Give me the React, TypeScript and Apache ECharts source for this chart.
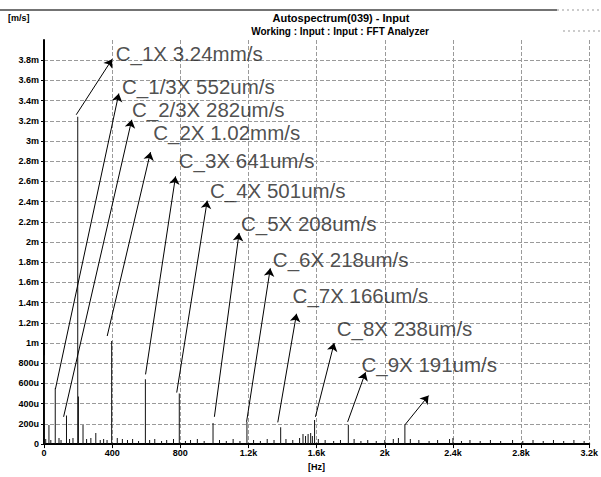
import React, { useEffect, useRef } from "react";
import * as echarts from "echarts";

// Frequency (Hz) of labelled orders and their amplitudes (mm/s)
const orderNames = ["C_1/3X", "C_2/3X", "C_1X", "C_2X", "C_3X", "C_4X", "C_5X", "C_6X", "C_7X", "C_8X", "C_9X"];
const orderFreqs = [66, 132, 198, 397, 595, 794, 992, 1191, 1389, 1588, 1786];
const orderValues = [0.552, 0.282, 3.24, 1.02, 0.641, 0.501, 0.208, 0.218, 0.166, 0.238, 0.191];
const orderTexts = ["552um/s", "282um/s", "3.24mm/s", "1.02mm/s", "641um/s", "501um/s", "208um/s", "218um/s", "166um/s", "238um/s", "191um/s"];

// Arrow starts / tips in data coordinates (Hz, mm/s)
const arrowStartF = [67, 115, 189, 371, 596, 779, 1000, 1189, 1372, 1593, 1782];
const arrowStartV = [0.545, 0.27, 3.26, 1.07, 0.69, 0.51, 0.27, 0.22, 0.215, 0.27, 0.22];
const arrowTipF = [439, 515, 400, 625, 772, 958, 1145, 1328, 1482, 1703, 1887];
const arrowTipV = [3.47, 3.21, 3.81, 2.89, 2.65, 2.41, 2.09, 1.74, 1.29, 1.0, 0.71];
// Label anchors (left edge, middle) in data coordinates
const labelF = [458, 516, 421, 641, 791, 974, 1156, 1343, 1459, 1718, 1863];
const labelV = [3.54, 3.31, 3.87, 3.08, 2.81, 2.51, 2.18, 1.83, 1.47, 1.14, 0.79];

// Extra unlabeled peak with its arrow
const extraPeak = [2118, 0.19];
const extraArrow = [2118, 0.19, 2257, 0.48];

// Other spectral lines (Hz, mm/s)
const otherLines: number[][] = [
  [2, 0.88], [10, 0.05], [29, 0.19], [40, 0.04], [88, 0.06], [100, 0.04], [150, 0.05], [170, 0.06],
  [202, 0.47], [229, 0.19], [250, 0.05], [275, 0.06], [304, 0.11], [330, 0.04], [350, 0.05], [370, 0.04],
  [430, 0.06], [460, 0.05], [490, 0.04], [520, 0.05], [555, 0.03], [620, 0.04], [650, 0.05], [690, 0.03],
  [720, 0.04], [760, 0.05], [830, 0.03], [860, 0.04], [900, 0.05], [940, 0.03], [1030, 0.04], [1070, 0.03],
  [1110, 0.05], [1150, 0.03], [1230, 0.04], [1270, 0.03], [1310, 0.05], [1350, 0.04], [1420, 0.05],
  [1460, 0.04], [1500, 0.06], [1520, 0.1], [1535, 0.08], [1550, 0.1], [1565, 0.11], [1575, 0.08],
  [1610, 0.05], [1650, 0.04], [1700, 0.03], [1740, 0.04], [1820, 0.05], [1860, 0.03], [1900, 0.04],
  [1950, 0.03], [2000, 0.04], [2050, 0.05], [2080, 0.06], [2150, 0.05], [2200, 0.04], [2260, 0.03],
  [2310, 0.04], [2380, 0.05], [2400, 0.06], [2450, 0.03], [2500, 0.04], [2560, 0.03], [2620, 0.04],
  [2680, 0.03], [2750, 0.04], [2810, 0.03], [2870, 0.04], [2930, 0.03], [2990, 0.04], [3050, 0.03],
  [3110, 0.04], [3170, 0.03],
];

const titleText = "Autospectrum(039) - Input";
const subtitleText = "Working : Input : Input : FFT Analyzer";
const yUnit = "[m/s]";
const xUnit = "[Hz]";

export default function App() {
  const ref = useRef<HTMLDivElement>(null);
  useEffect(() => {
    if (!ref.current) return;
    const chart = echarts.init(ref.current, null, { renderer: "svg" });
    const barData = [
      ...orderFreqs.map((f, i) => [f, orderValues[i]]),
      extraPeak,
      ...otherLines,
    ];
    const arrows: any[] = orderFreqs.map((_, i) => [
      { coord: [arrowStartF[i], arrowStartV[i]] },
      { coord: [arrowTipF[i], arrowTipV[i]] },
    ]);
    arrows.push([
      { coord: [extraArrow[0], extraArrow[1]] },
      { coord: [extraArrow[2], extraArrow[3]] },
    ]);
    const labels = orderNames.map((n, i) => [labelF[i], labelV[i], `${n} ${orderTexts[i]}`]);
    const gridColor = "#9a9a9a";
    const tickFont = { fontSize: 9, color: "#000", fontFamily: "Liberation Sans", fontWeight: "bold" as const };
    chart.setOption({
      animation: false,
      backgroundColor: "#fff",
      grid: { left: 44, right: 3, top: 40, bottom: 24 },
      graphic: [
        { type: "line", shape: { x1: 0, y1: 10, x2: 557, y2: 10 }, style: { stroke: "#444", lineWidth: 1.5 } },
        { type: "line", shape: { x1: 557, y1: 10, x2: 601, y2: 10 }, style: { stroke: "#999", lineWidth: 1, lineDash: [2, 3] } },
        { type: "line", shape: { x1: 563, y1: 31, x2: 601, y2: 31 }, style: { stroke: "#999", lineWidth: 1, lineDash: [2, 3] } },
        { type: "text", x: 8, y: 18, style: { text: yUnit, font: "bold 9px 'Liberation Sans'", fill: "#000", verticalAlign: "middle" } },
        { type: "text", x: 341, y: 18, style: { text: titleText, font: "bold 11px 'Liberation Sans'", fill: "#000", align: "center", verticalAlign: "middle" } },
        { type: "text", x: 340, y: 31, style: { text: subtitleText, font: "bold 10px 'Liberation Sans'", fill: "#000", align: "center", verticalAlign: "middle" } },
      ],
      xAxis: {
        type: "value",
        min: 0,
        max: 3200,
        interval: 400,
        name: xUnit,
        nameLocation: "middle",
        nameGap: 14,
        nameTextStyle: { ...tickFont, lineHeight: 10 },
        axisLine: { lineStyle: { color: "#000", width: 2 } },
        axisTick: { show: true, length: 4, lineStyle: { color: "#000" } },
        axisLabel: {
          ...tickFont,
          margin: 4,
          formatter: (v: number) => (v >= 1000 ? `${v / 1000}k` : `${v}`),
        },
        splitLine: { show: true, lineStyle: { color: gridColor, width: 1, type: "dashed" } },
      },
      yAxis: {
        type: "value",
        min: 0,
        max: 4,
        interval: 0.2,
        axisLine: { show: true, lineStyle: { color: "#000", width: 2 } },
        axisTick: { show: true, length: 3, lineStyle: { color: "#000" } },
        axisLabel: {
          ...tickFont,
          margin: 5,
          showMaxLabel: false,
          formatter: (v: number) => {
            if (v === 0) return "0";
            if (v < 0.999) return `${Math.round(v * 1000)}u`;
            return `${+v.toFixed(1)}m`;
          },
        },
        splitLine: { show: true, showMaxLine: false, lineStyle: { color: gridColor, width: 1, type: "dashed" } },
      },
      series: [
        {
          type: "bar",
          barWidth: 1,
          data: barData,
          itemStyle: { color: "#111" },
          silent: true,
          markLine: {
            silent: true,
            symbol: ["none", "arrow"],
            symbolSize: 8,
            label: { show: false },
            lineStyle: { color: "#000", width: 1, type: "solid" },
            itemStyle: { color: "#000" },
            emphasis: { disabled: true },
            data: arrows,
          },
        },
        {
          type: "scatter",
          symbolSize: 0,
          silent: true,
          data: labels,
          label: {
            show: true,
            position: "right",
            distance: 0,
            formatter: (p: any) => p.data[2],
            fontSize: 20.5,
            fontFamily: "Liberation Sans",
            color: "#222",
            align: "left",
            verticalAlign: "middle",
          },
        },
      ],
    });
    return () => chart.dispose();
  }, []);
  return <div ref={ref} style={{ width: 601, height: 477, position: "absolute", left: 0, top: 0 }} />;
}
